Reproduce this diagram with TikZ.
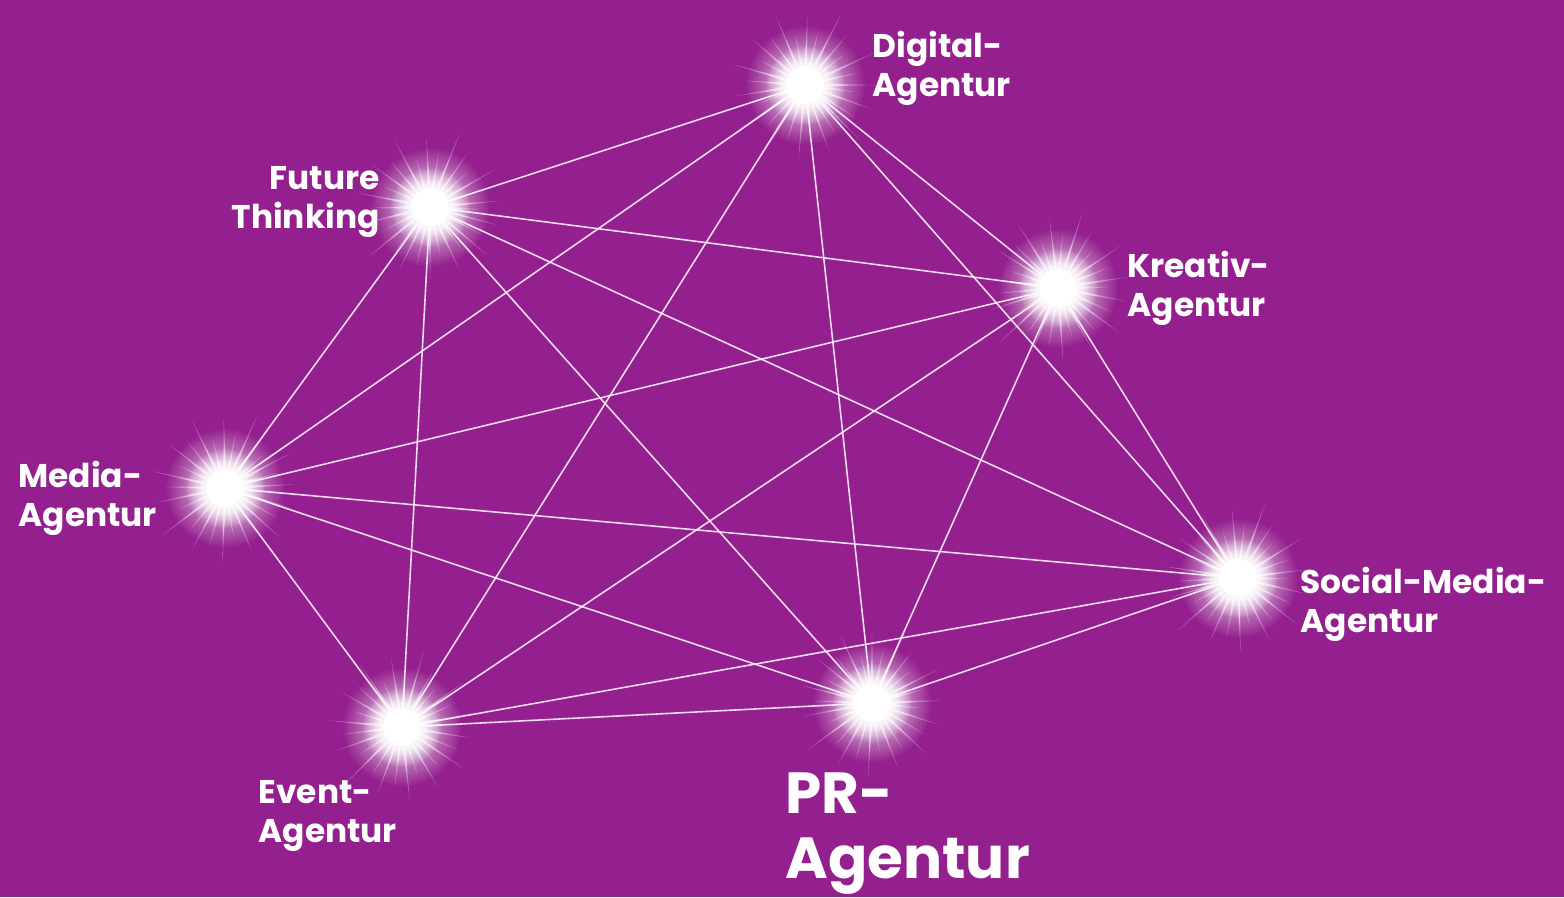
\documentclass[tikz,border=0pt]{standalone}
\usepackage{fontspec}
\setmainfont{Poppins}
\usepackage{tikz}
\usepackage{xcolor}
\usetikzlibrary{fadings}
\definecolor{bgpurple}{RGB}{148,31,142}
\tikzfading[name=glowfade, inner color=transparent!0, outer color=transparent!100]
\tikzstyle{spark} = [circle, inner sep=0pt, minimum size=2pt]
\tikzstyle{agentur} = [text=white, font=\bfseries\fontsize{18.7}{22}\selectfont, inner sep=0pt]
\tikzstyle{ray} = [white]

% glow with rays around a spark node
\newcommand{\glow}[2]{%
  \foreach \a/\l in {0/14,13/11,25/15,38/10,50/13,63/16,76/11,88/14,101/10,113/15,126/12,139/14,%
                     151/10,164/15,176/12,189/14,202/10,214/16,227/11,239/14,252/12,265/15,277/10,290/14,302/11,315/15,327/12,340/14,352/10}{%
    \fill[ray, opacity=.3] (#1) +(\a+#2+4:4mm) -- +(\a+#2:\l mm) -- +(\a+#2-4:4mm) -- cycle;
    \fill[ray, opacity=.4] (#1) +(\a+#2+5:4mm) -- +(\a+#2:0.65*\l mm) -- +(\a+#2-5:4mm) -- cycle;
  }
  \fill[white, path fading=glowfade] (#1) circle (12mm);
  \fill[white, path fading=glowfade] (#1) circle (8mm);
  \fill[white, path fading=glowfade] (#1) circle (8mm);
  \fill[white, path fading=glowfade] (#1) circle (6mm);
  \fill[white] (#1) circle (3.8mm);
}

\begin{document}
\begin{tikzpicture}[x=0.02cm,y=-0.02cm,semithick]
  \fill[bgpurple] (0,0) rectangle (1564,897);

  \node[spark] (Digital) at (805,85) {};
  \node[spark] (Future) at (430,207) {};
  \node[spark] (Kreativ) at (1058,288) {};
  \node[spark] (Media) at (225,488) {};
  \node[spark] (Social) at (1238,578) {};
  \node[spark] (Event) at (402,727) {};
  \node[spark] (PR) at (872,703) {};

  \node[agentur, anchor=north west, align=left] (Digital_txt) at (872,31) {Digital-\\Agentur};
  \node[agentur, anchor=north east, align=right] (Future_txt) at (380,166) {Future\\Thinking};
  \node[agentur, anchor=north west, align=left] (Kreativ_txt) at (1127,251) {Kreativ-\\Agentur};
  \node[agentur, anchor=north west, align=left] (Media_txt) at (18,461) {Media-\\Agentur};
  \node[agentur, anchor=north west, align=left] (Social_txt) at (1300,567) {Social-Media-\\Agentur};
  \node[agentur, anchor=north west, align=left] (Event_txt) at (258,780) {Event-\\Agentur};
  \node[agentur, anchor=north west, align=left, font=\bfseries\fontsize{33}{37}\selectfont] (PR_txt) at (785,772) {PR-\\Agentur};

  \tikzstyle{every edge} = [draw, white, opacity=.85, line width=.9pt]
  \path (Digital) edge (Future);
  \path (Digital) edge (Kreativ);
  \path (Digital) edge (Media);
  \path (Digital) edge (Social);
  \path (Digital) edge (Event);
  \path (Digital) edge (PR);
  \path (Future) edge (Kreativ);
  \path (Future) edge (Media);
  \path (Future) edge (Social);
  \path (Future) edge (Event);
  \path (Future) edge (PR);
  \path (Kreativ) edge (Media);
  \path (Kreativ) edge (Social);
  \path (Kreativ) edge (Event);
  \path (Kreativ) edge (PR);
  \path (Media) edge (Social);
  \path (Media) edge (Event);
  \path (Media) edge (PR);
  \path (Social) edge (Event);
  \path (Social) edge (PR);
  \path (Event) edge (PR);

  \glow{Digital}{0}
  \glow{Future}{5}
  \glow{Kreativ}{9}
  \glow{Media}{3}
  \glow{Social}{7}
  \glow{Event}{11}
  \glow{PR}{2}
\end{tikzpicture}
\end{document}
